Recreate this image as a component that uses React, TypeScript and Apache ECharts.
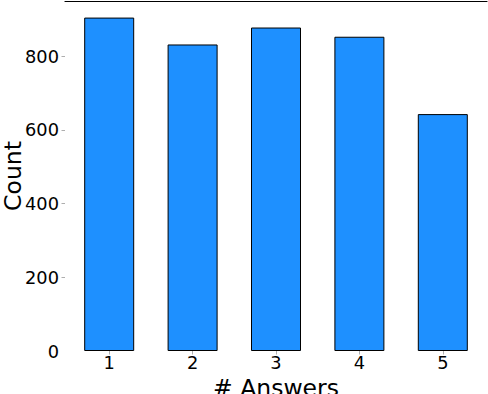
import React, { useEffect, useRef } from "react";
import * as echarts from "echarts";

const categories = [1, 2, 3, 4, 5];
const counts = [905, 832, 878, 853, 643];
const yTicks = [0, 200, 400, 600, 800];

export default function App() {
  const ref = useRef<HTMLDivElement>(null);
  useEffect(() => {
    if (!ref.current) return;
    const chart = echarts.init(ref.current, null, { renderer: "svg" });
    const font = "DejaVu Sans";
    chart.setOption({
      animation: false,
      backgroundColor: "#ffffff",
      grid: {
        left: 65,
        right: 1,
        top: 1,
        bottom: 43,
        containLabel: false,
        outerBoundsMode: "none",
      },
      xAxis: [
        {
          type: "value",
          min: 0.47,
          max: 5.53,
          name: "# Answers",
          nameLocation: "middle",
          nameGap: 24,
          nameTextStyle: { fontFamily: font, fontSize: 23.5, color: "#000" },
          axisLine: { show: false },
          splitLine: { show: false },
          axisTick: {
            show: true,
            customValues: categories,
            length: 3.5,
            lineStyle: { color: "#999", width: 0.8 },
          },
          axisLabel: {
            customValues: categories,
            fontFamily: font,
            fontSize: 17.8,
            color: "#000",
            margin: 2,
            formatter: (v: number) => String(v),
          },
        },
        {
          type: "value",
          position: "top",
          min: 0.47,
          max: 5.53,
          axisLine: { show: true, onZero: false, lineStyle: { color: "#000", width: 1.2 } },
          axisTick: { show: false },
          axisLabel: { show: false },
          splitLine: { show: false },
        },
      ],
      yAxis: {
        type: "value",
        min: 0,
        max: 950,
        interval: 200,
        name: "Count",
        nameLocation: "middle",
        nameGap: 40,
        nameMoveOverlap: false,
        nameRotate: 90,
        nameTextStyle: { fontFamily: font, fontSize: 23.5, color: "#000" },
        axisLine: { show: false },
        splitLine: { show: false },
        axisTick: {
          show: true,
          customValues: [200, 400, 600, 800],
          length: 3.5,
          lineStyle: { color: "#999", width: 0.8 },
        },
        axisLabel: {
          fontFamily: font,
          fontSize: 17.8,
          color: "#000",
          margin: 6,
          showMaxLabel: false,
          formatter: (v: number) => (yTicks.includes(v) ? String(v) : ""),
        },
      },
      series: [
        {
          type: "bar",
          data: categories.map((c, i) => [c, counts[i]]),
          barWidth: 50,
          itemStyle: { color: "#1E90FF", borderColor: "#000", borderWidth: 1 },
        },
      ],
    });
    return () => chart.dispose();
  }, []);
  return (
    <div
      ref={ref}
      style={{ position: "fixed", left: 0, top: 0, width: 488, height: 394 }}
    />
  );
}
